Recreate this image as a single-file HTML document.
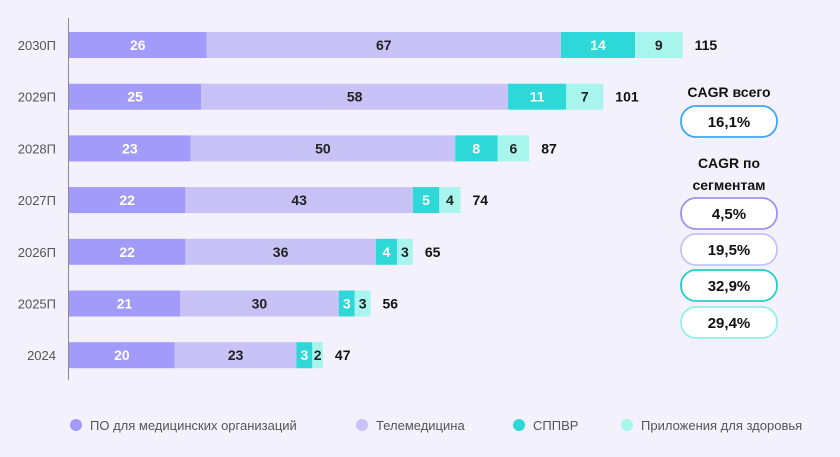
<!DOCTYPE html>
<html><head><meta charset="utf-8"><style>
body{margin:0;width:840px;height:452px;background:#f3f1fc;font-family:"Liberation Sans",sans-serif;overflow:hidden}
</style></head><body>
<svg width="840" height="452" xmlns="http://www.w3.org/2000/svg" font-family="Liberation Sans, sans-serif">
<rect width="840" height="452" fill="#f3f1fc"/>
<line x1="68.5" y1="18" x2="68.5" y2="380" stroke="#8a8a96" stroke-width="1"/>
<g id="bars"></g>
<g font-size="14" font-weight="bold" text-anchor="middle" fill="#111">
<text x="729" y="97">CAGR всего</text>
<text x="729" y="168">CAGR по</text>
<text x="729" y="190">сегментам</text>
</g>
<g fill="#fff" stroke-width="1.8">
<rect x="681" y="106" width="96" height="31" rx="15" stroke="#3aa8f5"/>
<rect x="681" y="198" width="96" height="31" rx="15" stroke="#9b92f2"/>
<rect x="681" y="234" width="96" height="31" rx="15" stroke="#c9c2f5"/>
<rect x="681" y="270" width="96" height="31" rx="15" stroke="#22cfc8"/>
<rect x="681" y="307" width="96" height="31" rx="15" stroke="#93f0e6"/>
</g>
<g font-size="15" font-weight="bold" text-anchor="middle" fill="#111">
<text x="729" y="127">16,1%</text>
<text x="729" y="219">4,5%</text>
<text x="729" y="255">19,5%</text>
<text x="729" y="291">32,9%</text>
<text x="729" y="328">29,4%</text>
</g>
<g font-size="13" fill="#555">
<circle cx="76" cy="425" r="6" fill="#a29bfa"/><text x="90" y="430">ПО для медицинских организаций</text>
<circle cx="362" cy="425" r="6" fill="#c8c2f6"/><text x="376" y="430">Телемедицина</text>
<circle cx="519" cy="425" r="6" fill="#2fd8d8"/><text x="533" y="430">СППВР</text>
<circle cx="627" cy="425" r="6" fill="#a8f5ee"/><text x="641" y="430">Приложения для здоровья</text>
</g>
</svg>
<script>
const data=[["2030П",26,67,14,9,115],["2029П",25,58,11,7,101],["2028П",23,50,8,6,87],["2027П",22,43,5,4,74],["2026П",22,36,4,3,65],["2025П",21,30,3,3,56],["2024",20,23,3,2,47]];
const cols=["#a29bfa","#c8c2f6","#2fd8d8","#a8f5ee"],tc=["#fff","#222","#fff","#222"];
const k=5.29;let s="";
data.forEach((d,i)=>{const cy=45+i*51.7,y=cy-13;let x=69;
s+=`<text x="56" y="${cy+5}" font-size="13" fill="#555" text-anchor="end">${d[0]}</text>`;
for(let j=0;j<4;j++){const w=d[j+1]*k;s+=`<rect x="${x}" y="${y}" width="${w}" height="26" fill="${cols[j]}"/>`;
s+=`<text x="${x+w/2}" y="${cy+5}" font-size="14" font-weight="bold" fill="${tc[j]}" text-anchor="middle">${d[j+1]}</text>`;x+=w;}
s+=`<text x="${x+12}" y="${cy+5}" font-size="14" font-weight="bold" fill="#111">${d[5]}</text>`;});
document.getElementById("bars").innerHTML=s;
</script>
</body></html>
